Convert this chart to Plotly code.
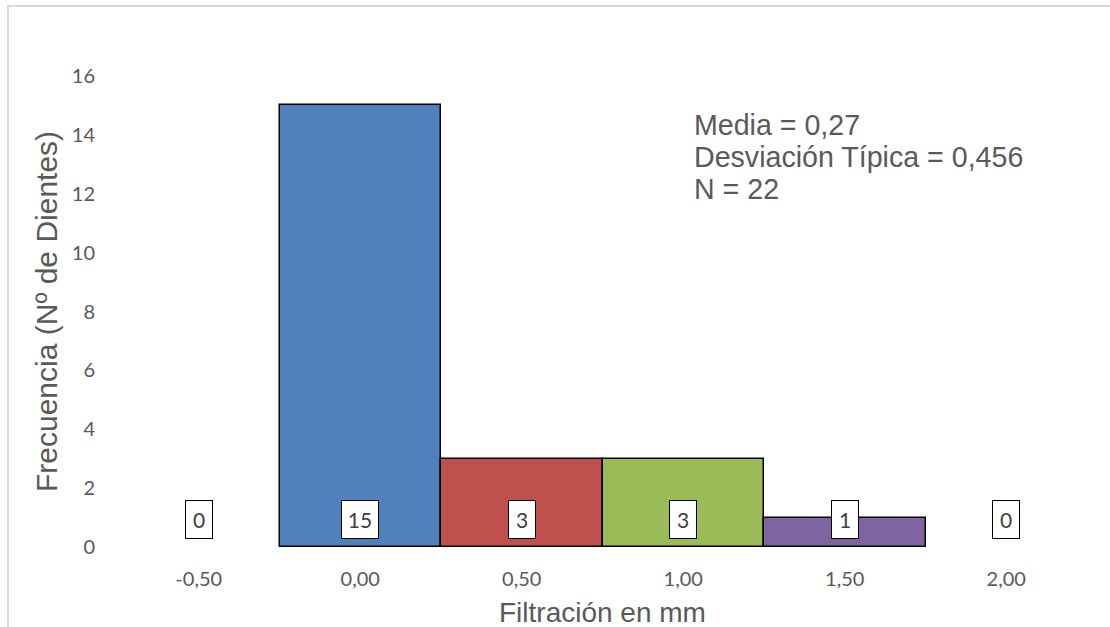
import plotly.graph_objects as go

# Histogram of leakage (mm) per tooth
bin_labels = ["-0,50", "0,00", "0,50", "1,00", "1,50", "2,00"]
frequencies = [0, 15, 3, 3, 1, 0]
bar_colors = ["#4F81BD", "#4F81BD", "#C0504D", "#9BBB59", "#8064A2", "#8064A2"]

mean_value = "0,27"
std_value = "0,456"
n_total = sum(frequencies)

y_ticks = list(range(0, 17, 2))

TICK_FONT = dict(family="Lato, Carlito, sans-serif", size=20, color="#595959")
TITLE_FONT = dict(family="Liberation Sans, Arial, sans-serif", size=28.6, color="#595959")

fig = go.Figure()
fig.add_trace(
    go.Bar(
        x=bin_labels,
        y=frequencies,
        marker=dict(
            color=bar_colors,
            # empty bins get no outline so no stray baseline is drawn
            line=dict(color="#000000", width=[1.5 if v > 0 else 0 for v in frequencies]),
        ),
        hoverinfo="x+y",
        showlegend=False,
    )
)

# Boxed value labels sitting just above the baseline
for lbl, val in zip(bin_labels, frequencies):
    txt = str(val)
    fig.add_annotation(
        x=lbl, y=0, xref="x", yref="y",
        text=txt, showarrow=False,
        yanchor="bottom", yshift=8,
        width=6 + 10 * len(txt), height=27,
        font=dict(family="Lato, Carlito, sans-serif", size=21, color="#404040"),
        bgcolor="#FFFFFF", bordercolor="#000000", borderwidth=1, borderpad=5,
    )

# Summary statistics block
stats_lines = [
    f"Media = {mean_value}",
    f"Desviación Típica = {std_value}",
    f"N = {n_total}",
]
plot_top, plot_h = 76, 471
for i, line in enumerate(stats_lines):
    y_px = 125 + 32 * i
    fig.add_annotation(
        x=(692 - 118) / 969, y=1 - (y_px - plot_top) / plot_h,
        xref="paper", yref="paper", xanchor="left", yanchor="middle",
        text=line, showarrow=False, align="left", font=TITLE_FONT,
    )

# Axis titles
fig.add_annotation(
    x=(46 - 118) / 969, y=1 - (312 - plot_top) / plot_h, xref="paper", yref="paper",
    xanchor="center", yanchor="middle", textangle=-90,
    text="Frecuencia (Nº de Dientes)", showarrow=False,
    font=dict(TITLE_FONT, size=30),
)
fig.add_annotation(
    x=0.5, y=-(612 - 547) / plot_h, xref="paper", yref="paper",
    xanchor="center", yanchor="middle",
    text="Filtración en mm", showarrow=False, font=dict(TITLE_FONT, size=28),
)

# Light chart-area border
fig.add_shape(
    type="rect", xref="paper", yref="paper",
    x0=(8 - 118) / 969, x1=(1130 - 118) / 969,
    y0=-(660 - 547) / plot_h, y1=1 + (plot_top - 6) / plot_h,
    line=dict(color="#D9D9D9", width=2), fillcolor="rgba(0,0,0,0)", layer="below",
)

fig.update_layout(
    width=1110, height=627,
    margin=dict(l=118, r=23, t=plot_top, b=627 - plot_top - plot_h, autoexpand=False),
    paper_bgcolor="#FFFFFF", plot_bgcolor="#FFFFFF",
    bargap=0,
    xaxis=dict(
        type="category", categoryorder="array", categoryarray=bin_labels,
        showgrid=False, zeroline=False, showline=False, ticks="",
        tickfont=TICK_FONT, ticklabelstandoff=18,
    ),
    yaxis=dict(
        range=[0, 16], tickvals=y_ticks, ticktext=[str(v) for v in y_ticks],
        showgrid=False, zeroline=False, showline=False, ticks="",
        tickfont=TICK_FONT, ticklabelstandoff=22,
    ),
)

fig.write_html("out.html")
